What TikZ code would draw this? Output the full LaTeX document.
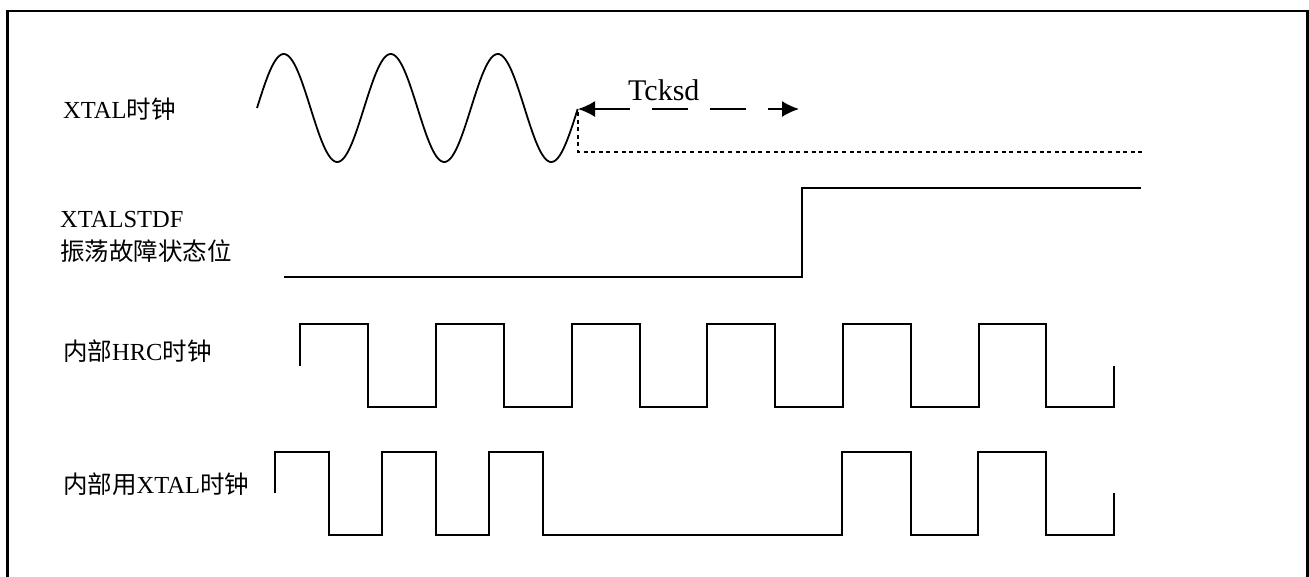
\documentclass[tikz,border=0pt]{standalone}
\usepackage{fontspec}
\setmainfont{Liberation Serif}
\newfontfamily\cjk{Noto Sans CJK SC}
\usetikzlibrary{arrows.meta}
\begin{document}
\begin{tikzpicture}[x=1pt,y=-1pt,
  frame/.style={line width=2.2pt},
  wave/.style={line width=1.6pt, line join=miter},
  sine/.style={line width=1.8pt},
  dotline/.style={line width=2pt, dash pattern=on 4pt off 3.6pt},
  tarrow/.style={line width=1.8pt, dash pattern=on 36pt off 22pt,
     {Latex[length=17pt,width=16pt]}-{Latex[length=17pt,width=16pt]}},
  lbl/.style={anchor=base west, inner sep=0pt, font=\fontsize{24.5}{30}\selectfont},
  big/.style={anchor=base west, inner sep=0pt, font=\fontsize{30}{36}\selectfont}]
\useasboundingbox (0,0) rectangle (1309,576);
% frame (bottom edge lies outside the picture)
\draw[frame] (7.5,600) -- (7.5,11) -- (1307.5,11) -- (1307.5,600);

% labels
\node[lbl] (l1) at (63,118) {XTAL{\cjk 时钟}};
\node[lbl] (l2a) at (60,227) {XTALSTDF};
\node[lbl] (l2b) at (60,260) {\cjk 振荡故障状态位};
\node[lbl] (l3) at (63,360) {{\cjk 内部}HRC{\cjk 时钟}};
\node[lbl] (l4) at (63,493) {{\cjk 内部用}XTAL{\cjk 时钟}};

% XTAL sine
\draw[sine] plot[domain=0:3, samples=200, smooth] ({257+107*\x}, {108-54*sin(360*\x)});
\coordinate (s0) at (578,109);
\coordinate (s1) at (799,109);
\coordinate (d0) at (578,112);
\coordinate (d1) at (1143,152);
\node[big] (tck) at (628,100) {Tcksd};
\draw[tarrow] (s0) -- (s1);
\draw[dotline] (d0) |- (d1);

% XTALSTDF
\draw[wave] (284,277) -- (802,277) -- (802,188) -- (1141,188);

% HRC clock
\draw[wave] (300,366) -- (300,324) -- (368,324) -- (368,407)
  -- (436,407) -- (436,324) -- (504,324) -- (504,407)
  -- (572,407) -- (572,324) -- (640,324) -- (640,407)
  -- (707,407) -- (707,324) -- (775,324) -- (775,407)
  -- (843,407) -- (843,324) -- (911,324) -- (911,407)
  -- (979,407) -- (979,324) -- (1046,324) -- (1046,407)
  -- (1114,407) -- (1114,366);

% internal XTAL clock
\draw[wave] (275,493) -- (275,452) -- (329,452) -- (329,535)
  -- (382,535) -- (382,452) -- (436,452) -- (436,535)
  -- (489,535) -- (489,452) -- (543,452) -- (543,535)
  -- (842,535) -- (842,452) -- (911,452) -- (911,535)
  -- (978,535) -- (978,452) -- (1046,452) -- (1046,535)
  -- (1114,535) -- (1114,493);
\end{tikzpicture}
\end{document}
